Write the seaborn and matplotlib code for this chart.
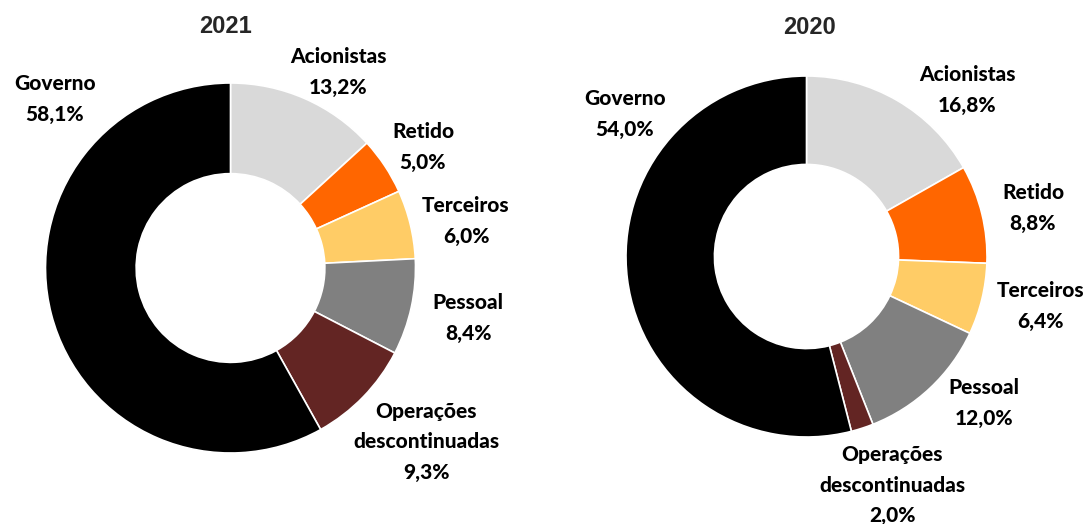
import numpy as np
import matplotlib
matplotlib.use("Agg")
import matplotlib.pyplot as plt
import seaborn as sns

sns.set_theme(style="white")
plt.rcParams["font.family"] = ["Lato", "DejaVu Sans"]

# data
categories = ["Acionistas", "Retido", "Terceiros", "Pessoal",
              "Operações\ndescontinuadas", "Governo"]
share_2021 = [13.2, 5.0, 6.0, 8.4, 9.3, 58.1]
share_2020 = [16.8, 8.8, 6.4, 12.0, 2.0, 54.0]
colors = ["#D9D9D9", "#FF6600", "#FFCC66", "#808080", "#632523", "#000000"]

W, H = 1090, 524
# layout (pixels): donut centre / radius, title pos, label anchors (x centre, first baseline)
charts = [
    {"year": "2021", "values": share_2021, "center": (230.5, 268), "radius": 185,
     "title": (225, 33),
     "labels": [(338, 63), (423, 138), (466, 212), (468, 309), (426, 418), (55, 90)]},
    {"year": "2020", "values": share_2020, "center": (806.5, 256.5), "radius": 180.5,
     "title": (809, 34),
     "labels": [(967, 81), (1033, 199), (1041, 297), (984, 394), (892, 461), (625, 105)]},
]
line_step = 30.5

fig = plt.figure(figsize=(W / 100, H / 100), dpi=100)

for c in charts:
    cx, cy = c["center"]
    r = c["radius"]
    ax = fig.add_axes([(cx - r) / W, (H - cy - r) / H, 2 * r / W, 2 * r / H])
    ax.pie(c["values"], colors=colors, startangle=90, counterclock=False,
           radius=1, wedgeprops=dict(width=0.49, edgecolor="white", linewidth=1.2))
    ax.set_xlim(-1, 1)
    ax.set_ylim(-1, 1)
    ax.set_aspect("equal")
    ax.axis("off")

    tx, ty = c["title"]
    fig.text(tx / W, 1 - ty / H, c["year"], ha="center", va="baseline",
             fontsize=17, fontweight="bold", family=["Liberation Sans", "DejaVu Sans"])

    for name, val, (lx, ly) in zip(categories, c["values"], c["labels"]):
        lines = name.split("\n") + [f"{val:.1f}%".replace(".", ",")]
        for i, line in enumerate(lines):
            fig.text(lx / W, 1 - (ly + i * line_step) / H, line, ha="center",
                     va="baseline", fontsize=15, fontweight="black", color="black")

fig.savefig("out.png", dpi=100, facecolor="white")
